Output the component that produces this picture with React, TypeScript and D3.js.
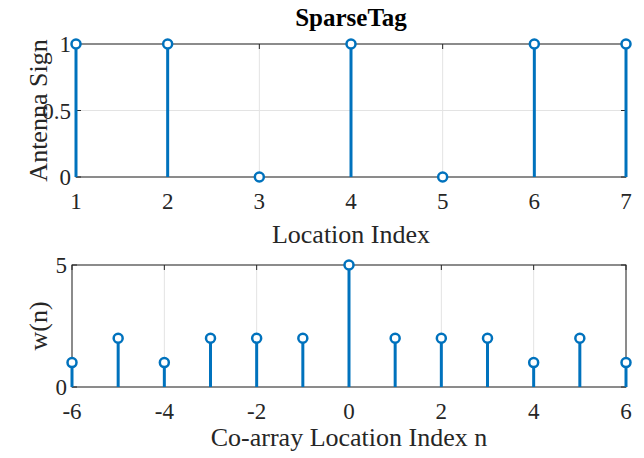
import React from "react";
import * as d3 from "d3";

const topX = [1, 2, 3, 4, 5, 6, 7];
const topY = [1, 1, 0, 1, 0, 1, 1];
const topXTicks = [1, 2, 3, 4, 5, 6, 7];
const topYTicks = [0, 0.5, 1];

const botX = [-6, -5, -4, -3, -2, -1, 0, 1, 2, 3, 4, 5, 6];
const botY = [1, 2, 1, 2, 2, 2, 5, 2, 2, 2, 1, 2, 1];
const botXTicks = [-6, -4, -2, 0, 2, 4, 6];
const botYTicks = [0, 5];

const BLUE = "#0072BD";
const AX = "#262626";
const GRID = "#e3e3e3";
const FONT = "'Liberation Serif', 'Times New Roman', serif";

type PanelProps = {
  xs: number[]; ys: number[]; xTicks: number[]; yTicks: number[];
  xDomain: [number, number]; yDomain: [number, number];
  left: number; right: number; top: number; bottom: number;
  xLabel: string; yLabel: string; title?: string;
  yLabelX: number; xLabelY: number;
};

function Panel(p: PanelProps) {
  const x = d3.scaleLinear().domain(p.xDomain).range([p.left, p.right]);
  const y = d3.scaleLinear().domain(p.yDomain).range([p.bottom, p.top]);
  return (
    <g>
      {p.xTicks.map((t) => (
        <line key={"gx" + t} x1={x(t)} x2={x(t)} y1={p.top} y2={p.bottom} stroke={GRID} strokeWidth={1} />
      ))}
      {p.yTicks.map((t) => (
        <line key={"gy" + t} x1={p.left} x2={p.right} y1={y(t)} y2={y(t)} stroke={GRID} strokeWidth={1} />
      ))}
      <rect x={p.left} y={p.top} width={p.right - p.left} height={p.bottom - p.top} fill="none" stroke={AX} strokeWidth={1} />
      {p.xTicks.map((t) => (
        <g key={"tx" + t}>
          <line x1={x(t)} x2={x(t)} y1={p.bottom} y2={p.bottom - 5} stroke={AX} />
          <line x1={x(t)} x2={x(t)} y1={p.top} y2={p.top + 5} stroke={AX} />
          <text x={x(t)} y={p.bottom + 32} textAnchor="middle" fontSize={23} fill={AX} fontFamily={FONT}>{String(t)}</text>
        </g>
      ))}
      {p.yTicks.map((t) => (
        <g key={"ty" + t}>
          <line x1={p.left} x2={p.left + 5} y1={y(t)} y2={y(t)} stroke={AX} />
          <line x1={p.right} x2={p.right - 5} y1={y(t)} y2={y(t)} stroke={AX} />
          <text x={p.left - 5} y={y(t) + 8} textAnchor="end" fontSize={23} fill={AX} fontFamily={FONT}>{t}</text>
        </g>
      ))}
      {p.xs.map((v, i) => (
        <g key={"s" + i}>
          <line x1={x(v)} x2={x(v)} y1={y(0)} y2={y(p.ys[i])} stroke={BLUE} strokeWidth={3} />
          <circle cx={x(v)} cy={y(p.ys[i])} r={4.5} fill="white" stroke={BLUE} strokeWidth={2.5} />
        </g>
      ))}
      <text x={(p.left + p.right) / 2} y={p.xLabelY} textAnchor="middle" fontSize={26} fill={AX} fontFamily={FONT}>{p.xLabel}</text>
      <text transform={`translate(${p.yLabelX},${(p.top + p.bottom) / 2}) rotate(-90)`} textAnchor="middle" fontSize={26} fill={AX} fontFamily={FONT}>{p.yLabel}</text>
      {p.title && (
        <text x={(p.left + p.right) / 2} y={p.top - 18} textAnchor="middle" fontSize={25} fontWeight="bold" fill="#000" fontFamily={FONT}>{p.title}</text>
      )}
    </g>
  );
}

export default function App() {
  return (
    <svg width={644} height={458} style={{ position: "absolute", left: 0, top: 0, background: "white" }}>
      <rect width={644} height={458} fill="white" />
      <Panel xs={topX} ys={topY} xTicks={topXTicks} yTicks={topYTicks} xDomain={[1, 7]} yDomain={[0, 1]}
        left={76} right={626} top={44} bottom={177} xLabel="Location Index" yLabel="Antenna Sign" title="SparseTag"
        yLabelX={47} xLabelY={243} />
      <Panel xs={botX} ys={botY} xTicks={botXTicks} yTicks={botYTicks} xDomain={[-6, 6]} yDomain={[0, 5]}
        left={72} right={626} top={265} bottom={387} xLabel="Co-array Location Index n" yLabel="w(n)"
        yLabelX={47} xLabelY={446} />
    </svg>
  );
}
